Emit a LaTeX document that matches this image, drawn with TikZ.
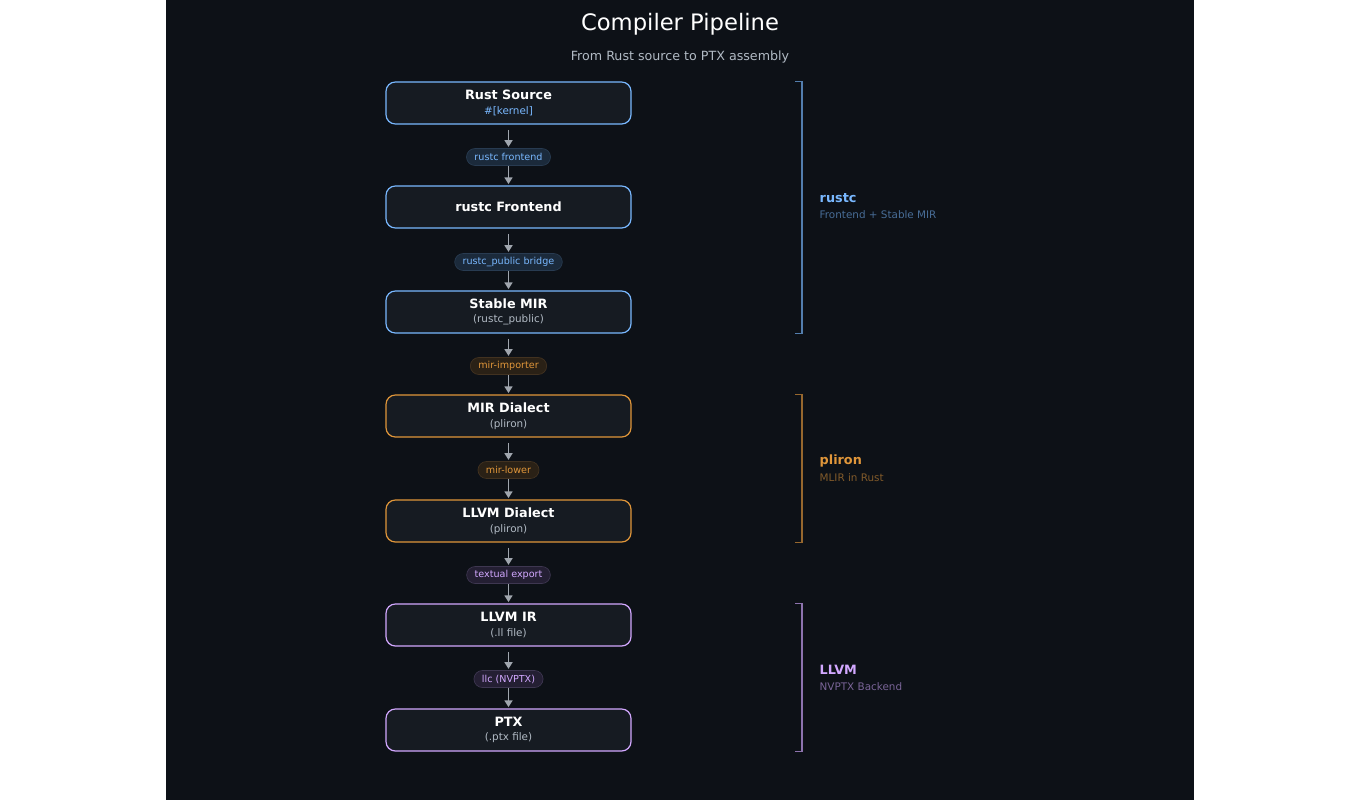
\documentclass[tikz,border=0pt]{standalone}
\usepackage{fontspec}
\setmainfont{DejaVu Sans}
\usetikzlibrary{arrows.meta}
\definecolor{bg}{HTML}{0D1117}
\definecolor{boxfill}{HTML}{161B22}
\definecolor{cblue}{HTML}{79B8FF}
\definecolor{corange}{HTML}{E0963A}
\definecolor{cpurple}{HTML}{D2A8FF}
\definecolor{pblue}{HTML}{1B2A3B}
\definecolor{porange}{HTML}{2A2116}
\definecolor{ppurple}{HTML}{241F33}
\definecolor{subgrey}{HTML}{B1BAC4}
\definecolor{arrowgrey}{HTML}{A0A6AE}

\begin{document}
\begin{tikzpicture}[x=0.75pt,y=-0.75pt]
    \tikzstyle{stage}=[draw, line width=0.9pt, fill=boxfill, rounded corners=7pt, minimum width=183.75pt, minimum height=31.5pt, inner sep=0pt, align=center, text=white]
    \tikzstyle{pill}=[draw, line width=0.5pt, rounded corners=6.4pt, minimum height=12.75pt, inner xsep=6pt, inner ysep=0pt, font=\fontsize{7.2}{8}\selectfont]
    \tikzstyle{flow}=[draw=arrowgrey, line width=1.1pt, -{Triangle[length=5pt,width=6pt]}]
    \tikzstyle{bracket}=[line width=0.8pt]

    % Background and margins
    \fill[white] (0,0) rectangle (1360,800);
    \fill[bg] (166,0) rectangle (1194,800);
    \useasboundingbox (0,0) rectangle (1360,800);

    % Title
    \node[text=white, font=\fontsize{17}{20}\selectfont] (title) at (680,24) {Compiler Pipeline};
    \node[text=subgrey, font=\fontsize{9.5}{11}\selectfont] (subtitle) at (680,57) {From Rust source to PTX assembly};

    % Draw the stage boxes
    \foreach \name/\y/\col/\main/\sub/\subcol in {
        S1/103/cblue/Rust Source/{\#[kernel]}/cblue,
        S3/312/cblue/Stable MIR/(rustc\_public)/subgrey,
        S4/416/corange/MIR Dialect/(pliron)/subgrey,
        S5/521/corange/LLVM Dialect/(pliron)/subgrey,
        S6/625/cpurple/LLVM IR/(.ll file)/subgrey,
        S7/730/cpurple/PTX/(.ptx file)/subgrey}
        \node[stage, draw=\col] (\name) at (508.5,\y)
            {{\fontsize{9.6}{11}\selectfont\bfseries \main}\\[-1pt]{\fontsize{7.8}{9}\selectfont\color{\subcol}\sub}};
    \node[stage, draw=cblue, font=\fontsize{9.6}{11}\selectfont\bfseries] (S2) at (508.5,207) {rustc Frontend};

    % Draw the transition pills
    \foreach \name/\y/\fillc/\col/\txt in {
        P1/157/pblue/cblue/rustc frontend,
        P2/262/pblue/cblue/rustc\_public bridge,
        P3/366/porange/corange/mir-importer,
        P4/470/porange/corange/mir-lower,
        P5/575/ppurple/cpurple/textual export,
        P6/679/ppurple/cpurple/llc (NVPTX)}
        \node[pill, fill=\fillc, draw=\col!25!bg, text=\col] (\name) at (508.5,\y) {\txt};

    % Connect boxes through the pills
    \foreach \a/\p/\b in {S1/P1/S2, S2/P2/S3, S3/P3/S4, S4/P4/S5, S5/P5/S6, S6/P6/S7} {
        \path[flow, shorten <=4pt, shorten >=1pt] (\a) -- (\p);
        \path[flow, shorten >=1pt] (\p) -- (\b);
    }

    % Group brackets
    \foreach \top/\bot/\col/\mid/\lab/\desc in {
        S1/S3/cblue/198/rustc/Frontend + Stable MIR,
        S4/S5/corange/461/pliron/MLIR in Rust,
        S6/S7/cpurple/670/LLVM/NVPTX Backend} {
        \coordinate (T-\lab) at (802,0 |- \top.north);
        \coordinate (B-\lab) at (802,0 |- \bot.south);
        \draw[bracket, draw=\col!65!bg] ([xshift=-5.25pt]T-\lab) -- (T-\lab) -- (B-\lab) -- ([xshift=-5.25pt]B-\lab);
        \node[anchor=west, text=\col, font=\fontsize{9.6}{11}\selectfont\bfseries] (G-\lab) at (815,\mid) {\lab};
        \node[anchor=west, text=\col!55!bg, font=\fontsize{7.8}{9}\selectfont] at (815,\mid+17) {\desc};
    }
\end{tikzpicture}
\end{document}
